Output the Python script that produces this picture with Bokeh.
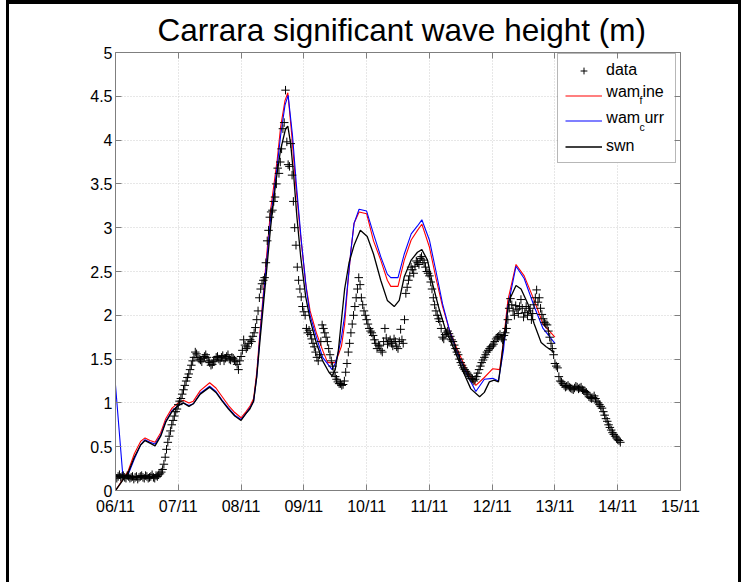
from bokeh.plotting import figure
from bokeh.models import (FixedTicker, LinearAxis, Range1d, Legend, LegendItem,
                          ColumnDataSource, Grid, BoxAnnotation)
from bokeh.core.properties import value
from bokeh.embed import file_html
from bokeh.resources import INLINE

title_text = "Carrara  significant wave height (m)"
x_tick_values = [0, 1, 2, 3, 4, 5, 6, 7, 8, 9]
x_tick_labels = ["06/11", "07/11", "08/11", "09/11", "10/11", "11/11",
                 "12/11", "13/11", "14/11", "15/11"]
y_tick_values = [0, 0.5, 1, 1.5, 2, 2.5, 3, 3.5, 4, 4.5, 5]
y_tick_labels = ["0", "0.5", "1", "1.5", "2", "2.5", "3", "3.5", "4", "4.5", "5"]

# observed Hs on the full hour, from 06/11 00:00
obs_hs = [
    0.17, 0.16, 0.15, 0.17, 0.14, 0.16, 0.15, 0.13, 0.16, 0.15, 0.17, 0.14,
    0.16, 0.15, 0.18, 0.14, 0.16, 0.19, 0.24, 0.38, 0.55, 0.68, 0.80, 0.90,
    0.98, 1.05, 1.15, 1.25, 1.33, 1.43, 1.52, 1.56, 1.50, 1.47, 1.53, 1.52,
    1.46, 1.44, 1.49, 1.53, 1.48, 1.54, 1.51, 1.55, 1.49, 1.51, 1.47, 1.38,
    1.53, 1.72, 1.62, 1.68, 1.70, 1.80, 1.95, 2.20, 2.36, 2.43, 2.85, 3.12,
    3.20, 3.35, 3.68, 3.75, 4.13, 4.57, 3.72, 3.96, 3.30, 2.80, 2.40, 2.21,
    2.04, 1.85, 1.83, 1.73, 1.64, 1.52, 1.55, 1.89, 1.80, 1.70, 1.55, 1.42,
    1.30, 1.24, 1.22, 1.21, 1.35, 1.58, 1.80, 2.00, 2.20, 2.43, 2.20, 2.05,
    1.95, 1.85, 1.80, 1.72, 1.62, 1.65, 1.58, 1.85, 1.67, 1.72, 1.65, 1.70,
    1.62, 1.84, 1.68, 2.25, 2.40, 2.55, 2.48, 2.62, 2.58, 2.67, 2.60, 2.50,
    2.45, 2.30, 2.12, 2.00, 1.93, 1.75, 1.78, 1.82, 1.76, 1.70, 1.62, 1.55,
    1.46, 1.40, 1.36, 1.32, 1.28, 1.25, 1.30, 1.38, 1.46, 1.52, 1.58, 1.62,
    1.65, 1.70, 1.75, 1.78, 1.72, 1.80, 1.95, 2.19, 2.05, 2.11, 2.02, 2.18,
    1.98, 2.10, 2.05, 1.95, 2.12, 2.29, 2.20, 2.01, 1.92, 1.89, 1.75, 1.62,
    1.45, 1.40, 1.25, 1.22, 1.18, 1.20, 1.17, 1.15, 1.19, 1.16, 1.18, 1.14,
    1.12, 1.07, 1.05, 1.08, 1.02, 0.98, 0.94, 0.86, 0.79, 0.72, 0.66, 0.62,
    0.58, 0.55,
]
# observed Hs on the half hour, from 06/11 00:30
obs_hs_half = [
    0.14, 0.18, 0.16, 0.15, 0.17, 0.14, 0.16, 0.15, 0.13, 0.16, 0.15, 0.17,
    0.14, 0.16, 0.15, 0.17, 0.18, 0.21, 0.30, 0.47, 0.62, 0.75, 0.85, 0.93,
    1.02, 1.10, 1.20, 1.29, 1.38, 1.48, 1.58, 1.52, 1.49, 1.51, 1.55, 1.48,
    1.43, 1.47, 1.52, 1.50, 1.52, 1.48, 1.53, 1.50, 1.52, 1.49, 1.44, 1.48,
    1.60, 1.66, 1.64, 1.72, 1.76, 1.86, 2.05, 2.30, 2.40, 2.60, 2.97, 3.18,
    3.30, 3.50, 3.62, 3.90, 4.20, 3.98, 3.70, 3.60, 3.00, 2.55, 2.30, 2.10,
    2.00, 1.80, 1.78, 1.68, 1.58, 1.48, 1.70, 1.85, 1.75, 1.62, 1.48, 1.35,
    1.27, 1.22, 1.20, 1.25, 1.45, 1.68, 1.90, 2.10, 2.30, 2.35, 2.12, 2.00,
    1.90, 1.82, 1.77, 1.68, 1.66, 1.60, 1.70, 1.74, 1.70, 1.68, 1.73, 1.64,
    1.70, 1.72, 1.95, 2.32, 2.45, 2.52, 2.56, 2.60, 2.65, 2.63, 2.55, 2.48,
    2.38, 2.20, 2.05, 1.96, 1.85, 1.73, 1.80, 1.79, 1.72, 1.66, 1.58, 1.50,
    1.43, 1.38, 1.34, 1.30, 1.27, 1.27, 1.34, 1.42, 1.49, 1.55, 1.60, 1.64,
    1.67, 1.73, 1.76, 1.74, 1.77, 1.85, 2.08, 2.12, 2.00, 2.07, 2.10, 2.08,
    2.03, 2.00, 2.08, 2.02, 2.20, 2.15, 2.08, 1.96, 1.90, 1.82, 1.68, 1.55,
    1.42, 1.30, 1.24, 1.20, 1.19, 1.18, 1.16, 1.17, 1.18, 1.17, 1.15, 1.13,
    1.10, 1.06, 1.06, 1.05, 1.00, 0.96, 0.90, 0.82, 0.75, 0.69, 0.64, 0.60,
    0.57,
]
obs_day = ([h / 24.0 for h in range(len(obs_hs))]
           + [(h + 0.5) / 24.0 for h in range(len(obs_hs_half))])
obs_all = obs_hs + obs_hs_half

# wam_fine (red)
fine_day = [0, 0.12, 0.2, 0.3, 0.4, 0.47, 0.55, 0.63, 0.72, 0.8, 0.9, 1.0, 1.08,
            1.17, 1.24, 1.35, 1.5, 1.6, 1.7, 1.8, 1.9, 2.0, 2.08, 2.14, 2.2, 2.25,
            2.3, 2.38, 2.47, 2.575, 2.63, 2.70, 2.745, 2.81, 2.87, 2.95, 3.03, 3.1,
            3.2, 3.3, 3.38, 3.5, 3.55, 3.6, 3.65, 3.7, 3.75, 3.8, 3.88, 4.0, 4.11,
            4.225, 4.33, 4.385, 4.50, 4.60, 4.71, 4.81, 4.88, 5.0, 5.10, 5.21, 5.32,
            5.45, 5.61, 5.74, 5.875, 6.01, 6.12, 6.18, 6.25, 6.38, 6.51, 6.67,
            6.81, 7.0]
fine_hs = [0.0, 0.13, 0.22, 0.42, 0.56, 0.60, 0.57, 0.55, 0.66, 0.82, 0.94, 1.0,
           1.03, 1.0, 1.02, 1.14, 1.23, 1.17, 1.07, 0.97, 0.89, 0.83, 0.90, 0.96,
           1.05, 1.35, 1.80, 2.45, 3.20, 3.77, 4.15, 4.45, 4.54, 4.04, 3.50, 2.90,
           2.36, 2.05, 1.80, 1.60, 1.46, 1.46, 1.55, 1.65, 1.90, 2.35, 2.74, 3.05,
           3.18, 3.16, 2.85, 2.63, 2.40, 2.33, 2.33, 2.63, 2.86, 2.97, 3.04, 2.78,
           2.44, 2.10, 1.83, 1.60, 1.35, 1.20, 1.29, 1.39, 1.38, 1.70, 2.17, 2.58,
           2.45, 2.17, 1.90, 1.75]

# wam_curr (blue)
curr_day = [0, 0.12, 0.2, 0.3, 0.4, 0.47, 0.55, 0.63, 0.72, 0.8, 0.9, 1.0, 1.08,
            1.17, 1.24, 1.35, 1.5, 1.6, 1.7, 1.8, 1.9, 2.0, 2.08, 2.14, 2.2, 2.25,
            2.3, 2.38, 2.47, 2.575, 2.63, 2.70, 2.75, 2.82, 2.88, 2.96, 3.04, 3.1,
            3.2, 3.3, 3.45, 3.5, 3.55, 3.6, 3.65, 3.7, 3.75, 3.8, 3.88, 4.0, 4.11,
            4.225, 4.33, 4.385, 4.50, 4.60, 4.71, 4.81, 4.88, 5.0, 5.10, 5.21, 5.32,
            5.45, 5.61, 5.74, 5.875, 6.01, 6.10, 6.18, 6.25, 6.38, 6.51, 6.67,
            6.81, 7.0]
curr_hs = [1.20, 0.14, 0.18, 0.36, 0.52, 0.58, 0.55, 0.53, 0.63, 0.79, 0.91, 0.97,
           1.0, 0.97, 0.99, 1.11, 1.19, 1.13, 1.03, 0.94, 0.86, 0.81, 0.88, 0.94,
           1.02, 1.30, 1.75, 2.40, 3.10, 3.70, 4.05, 4.40, 4.51, 4.05, 3.50, 2.85,
           2.30, 2.00, 1.75, 1.52, 1.38, 1.45, 1.58, 1.75, 2.00, 2.37, 2.74, 3.05,
           3.21, 3.19, 2.93, 2.67, 2.47, 2.43, 2.43, 2.70, 2.93, 3.02, 3.09, 2.86,
           2.52, 2.13, 1.83, 1.56, 1.31, 1.13, 1.27, 1.28, 1.25, 1.60, 2.10, 2.56,
           2.42, 2.10, 1.85, 1.68]

# swn (black)
swn_day = [0, 0.12, 0.2, 0.3, 0.4, 0.47, 0.55, 0.63, 0.72, 0.8, 0.9, 1.0, 1.08,
           1.17, 1.24, 1.35, 1.5, 1.6, 1.7, 1.8, 1.9, 2.0, 2.08, 2.14, 2.2, 2.25,
           2.3, 2.38, 2.47, 2.55, 2.63, 2.71, 2.745, 2.79, 2.84, 2.89, 2.95, 3.03,
           3.1, 3.2, 3.3, 3.4, 3.45, 3.5, 3.55, 3.6, 3.65, 3.72, 3.8, 3.9, 4.01,
           4.11, 4.225, 4.33, 4.44, 4.52, 4.6, 4.71, 4.81, 4.88, 4.97, 5.05, 5.16,
           5.26, 5.40, 5.53, 5.66, 5.8, 5.875, 5.955, 6.03, 6.10, 6.14, 6.19, 6.27,
           6.38, 6.46, 6.57, 6.67, 6.78, 6.86, 6.94, 6.99]
swn_hs = [0.0, 0.12, 0.20, 0.38, 0.52, 0.57, 0.54, 0.51, 0.62, 0.78, 0.90, 0.97,
          1.0, 0.96, 0.99, 1.10, 1.18, 1.12, 1.02, 0.93, 0.85, 0.80, 0.88, 0.93,
          1.02, 1.30, 1.70, 2.30, 3.00, 3.50, 3.89, 4.13, 4.16, 3.96, 3.58, 3.12,
          2.67, 2.21, 1.95, 1.68, 1.48, 1.35, 1.31, 1.38, 1.60, 1.95, 2.30, 2.60,
          2.80, 2.97, 2.90, 2.70, 2.40, 2.17, 2.10, 2.17, 2.44, 2.63, 2.72, 2.75,
          2.63, 2.36, 2.06, 1.83, 1.60, 1.37, 1.16, 1.07, 1.12, 1.24, 1.26, 1.24,
          1.45, 1.75, 2.17, 2.34, 2.30, 2.13, 1.90, 1.69, 1.64, 1.60, 1.58]

FONT = "Liberation Sans"
AX = "#7f7f7f"
GRID = "#cfcfcf"

p = figure(width=735, height=582, output_backend="svg", toolbar_location=None,
           x_range=Range1d(0, 9), y_range=Range1d(0, 5),
           min_border_left=106, min_border_right=64, min_border_top=48,
           min_border_bottom=96, x_axis_type=None, y_axis_type=None)
p.styles = {"margin-left": "6px",
            "border-top": "4px solid black", "border-left": "3px solid black",
            "border-right": "3px solid black"}
p.outline_line_color = None
p.background_fill_color = "white"
p.border_fill_color = "white"

p.title.text = title_text
p.title.text_font = FONT
p.title.text_font_size = "31.5px"
p.title.text_font_style = "normal"
p.title.align = "left"
p.title.offset = 42
p.title.text_color = "black"

xt = FixedTicker(ticks=x_tick_values)
yt = FixedTicker(ticks=y_tick_values)

def make_axis(ticker, labels=None):
    ax = LinearAxis(ticker=ticker)
    ax.axis_line_color = AX
    ax.major_tick_line_color = AX
    ax.major_tick_in = 6
    ax.major_tick_out = 0
    ax.minor_tick_line_color = None
    if labels is None:
        ax.major_label_text_font_size = "0px"
        ax.major_label_text_color = None
        ax.major_label_standoff = 0
    else:
        ax.major_label_overrides = labels
        ax.major_label_text_font = FONT
        ax.major_label_text_font_size = "16px"
        ax.major_label_text_color = "black"
    return ax

xb = make_axis(xt, {v: s for v, s in zip(x_tick_values, x_tick_labels)})
xb.major_label_standoff = 7
yl = make_axis(yt, {v: s for v, s in zip(y_tick_values, y_tick_labels)})
yl.major_label_standoff = 3
p.add_layout(xb, "below")
p.add_layout(yl, "left")
p.add_layout(make_axis(xt), "above")
p.add_layout(make_axis(yt), "right")

p.add_layout(Grid(dimension=0, ticker=xt, grid_line_color=GRID, grid_line_dash="1 2"))
p.add_layout(Grid(dimension=1, ticker=yt, grid_line_color=GRID, grid_line_dash="1 2"))

# screen pixel -> data helpers used only for placing the legend pieces
px_x = lambda px: (px - 115.0) / 62.67
px_y = lambda py: (490.0 - py) / 87.6

# white legend panel underneath everything (hides the grid there)
p.add_layout(BoxAnnotation(left=px_x(557), right=px_x(674), top=px_y(57),
                           bottom=px_y(163), fill_color="white", fill_alpha=1.0,
                           line_color=None, level="underlay"))

src_obs = ColumnDataSource(dict(x=obs_day, y=obs_all))
r_fine = p.line(fine_day, fine_hs, line_color="#ff0000", line_width=1.1)
r_curr = p.line(curr_day, curr_hs, line_color="#0000ff", line_width=1.1)
r_swn = p.line(swn_day, swn_hs, line_color="black", line_width=1.3)
r_obs = p.scatter("x", "y", source=src_obs, marker="cross", size=8.5,
                  line_color="black", line_width=1.0)

legend = Legend(items=[LegendItem(label="data", renderers=[r_obs]),
                       LegendItem(label=" ", renderers=[r_fine]),
                       LegendItem(label=" ", renderers=[r_curr]),
                       LegendItem(label="swn", renderers=[r_swn])],
                location=(442, 327), padding=7, spacing=8, margin=0,
                glyph_width=37, glyph_height=17, label_height=17, label_width=62,
                label_standoff=4, label_text_font=FONT, label_text_font_size="16px",
                label_text_color="black", border_line_color="#6f6f6f",
                border_line_width=1, background_fill_alpha=0.0)
p.add_layout(legend, "center")

# legend labels with TeX-style subscripts: wam_fine, wam_curr
p.text(x=[px_x(605.0), px_x(641.0), px_x(605.0), px_x(643.0)],
       y=[px_y(90.5), px_y(90.5), px_y(117.0), px_y(117.0)],
       text=["wam", "ine", "wam", "urr"],
       text_font=value(FONT), text_font_size="16px", text_baseline="middle",
       text_color="black")
p.text(x=[px_x(638.0), px_x(638.0)], y=[px_y(99.0), px_y(126.0)], text=["f", "c"],
       text_font=value(FONT), text_font_size="10.5px", text_baseline="middle",
       text_color="black")

open("out.html", "w").write(file_html(p, INLINE))
